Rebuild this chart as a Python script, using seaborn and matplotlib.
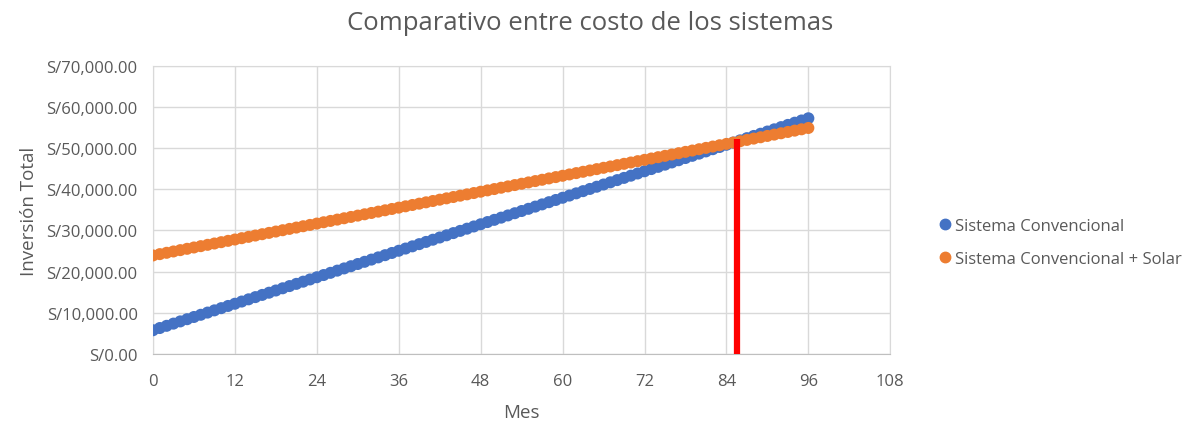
import matplotlib.pyplot as plt
import matplotlib.ticker as mticker
import numpy as np
import pandas as pd
import seaborn as sns

meses = list(range(0, 97))

convencional = [
    5740, 6277, 6814, 7351, 7888, 8425, 8962, 9499, 10036, 10573,
    11110, 11647, 12184, 12721, 13258, 13795, 14332, 14869, 15406, 15943,
    16480, 17017, 17554, 18091, 18628, 19165, 19702, 20239, 20776, 21313,
    21850, 22387, 22924, 23461, 23998, 24535, 25072, 25609, 26146, 26683,
    27220, 27757, 28294, 28831, 29368, 29905, 30442, 30979, 31516, 32053,
    32590, 33127, 33664, 34201, 34738, 35275, 35812, 36349, 36886, 37423,
    37960, 38497, 39034, 39571, 40108, 40645, 41182, 41719, 42256, 42793,
    43330, 43867, 44404, 44941, 45478, 46015, 46552, 47089, 47626, 48163,
    48700, 49237, 49774, 50311, 50848, 51385, 51922, 52459, 52996, 53533,
    54070, 54607, 55144, 55681, 56218, 56755, 57292,
]

solar = [
    23930, 24253, 24576, 24899, 25222, 25545, 25868, 26191, 26514, 26837,
    27160, 27483, 27806, 28129, 28452, 28775, 29098, 29421, 29744, 30067,
    30390, 30713, 31036, 31359, 31682, 32005, 32328, 32651, 32974, 33297,
    33620, 33943, 34266, 34589, 34912, 35235, 35558, 35881, 36204, 36527,
    36850, 37173, 37496, 37819, 38142, 38465, 38788, 39111, 39434, 39757,
    40080, 40403, 40726, 41049, 41372, 41695, 42018, 42341, 42664, 42987,
    43310, 43633, 43956, 44279, 44602, 44925, 45248, 45571, 45894, 46217,
    46540, 46863, 47186, 47509, 47832, 48155, 48478, 48801, 49124, 49447,
    49770, 50093, 50416, 50739, 51062, 51385, 51708, 52031, 52354, 52677,
    53000, 53323, 53646, 53969, 54292, 54615, 54938,
]

series = ["Sistema Convencional", "Sistema Convencional + Solar"]

# punto de equilibrio (linea roja)
equilibrio_x = [85.5, 85.5]
equilibrio_y = [0, 52200]

df = pd.DataFrame({
    "Mes": meses + meses,
    "Inversion": convencional + solar,
    "Serie": [series[0]] * len(meses) + [series[1]] * len(meses),
})

sns.set_style("white")
plt.rcParams["font.family"] = ["Open Sans", "DejaVu Sans"]

gris = "#595959"
palette = {series[0]: "#4472C4", series[1]: "#ED7D31"}

fig = plt.figure(figsize=(11.95, 4.27), dpi=100)
ax = fig.add_axes([0.128, 0.169, 0.617, 0.674])

sns.scatterplot(data=df, x="Mes", y="Inversion", hue="Serie", palette=palette,
                s=75, linewidth=0, ax=ax, legend=False, zorder=3)
ax.plot(equilibrio_x, equilibrio_y, color="#FF0000", lw=4.5, zorder=4,
        solid_capstyle="butt")

ax.set_xlim(0, 108)
ax.set_ylim(0, 70000)
ax.set_xticks(np.arange(0, 109, 12))
ax.set_yticks(np.arange(0, 70001, 10000))
ax.yaxis.set_major_formatter(mticker.FuncFormatter(lambda v, p: f"S/{v:,.2f}"))
ax.grid(True, color="#d9d9d9", lw=1, zorder=0)
for s in ax.spines.values():
    s.set_color("#d9d9d9")
ax.spines["bottom"].set_color("#bfbfbf")
ax.tick_params(axis="both", length=0, labelsize=12, colors=gris)
ax.tick_params(axis="x", pad=14)
ax.tick_params(axis="y", pad=11)

ax.set_xlabel("Mes", fontsize=13.5, color=gris, labelpad=10)
ax.set_ylabel("Inversión Total", fontsize=13.5, color=gris, labelpad=6)
fig.text(0.494, 0.945, "Comparativo entre costo de los sistemas", fontsize=18.5,
         color=gris, ha="center", va="center")

handles = [plt.Line2D([], [], marker="o", ls="", color=palette[s], markersize=7.5)
           for s in series]
fig.legend(handles, series, loc="center left", bbox_to_anchor=(0.771, 0.43),
           frameon=False, fontsize=12, labelcolor=gris, handletextpad=0.1,
           handlelength=1.0, labelspacing=1.0)

fig.savefig("out.png", dpi=100)
